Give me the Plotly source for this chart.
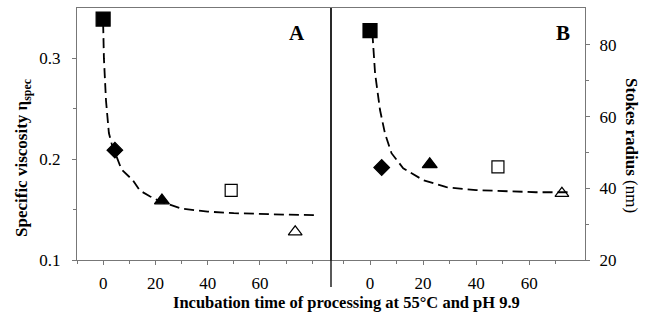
import plotly.graph_objects as go

# Panel A: specific viscosity
a_x = [0, 4.5, 22.5, 49, 73.5]
a_y = [0.339, 0.209, 0.159, 0.169, 0.128]
a_curve_x = [0, 0.3, 1.1, 2.2, 3.3, 4.5, 7, 11.4, 14, 18, 22, 30, 40, 50, 60, 70, 82]
a_curve_y = [0.335, 0.30, 0.258, 0.226, 0.215, 0.207, 0.19, 0.179, 0.169, 0.163, 0.158, 0.151, 0.148, 0.1465, 0.1455, 0.145, 0.1445]

# Panel B: Stokes radius
b_x = [0, 4.4, 22.5, 48.2, 72.3]
b_y = [84, 45.8, 46.7, 46, 38.6]
b_curve_x = [0.9, 1.9, 3.75, 5.6, 8.1, 12.5, 20, 28.8, 40, 50, 62.5, 75.6]
b_curve_y = [83.3, 72.1, 61.9, 55.4, 49.8, 45.6, 42.3, 40.3, 39.5, 39.3, 38.9, 38.9]

symbols = ["square", "diamond", "triangle-up", "square-open", "triangle-up-open"]
sizes = [14, 12, 13, 12, 12]

FONT = "Liberation Serif"

fig = go.Figure()
fig.add_trace(go.Scatter(x=a_curve_x, y=a_curve_y, mode="lines",
                         line=dict(color="black", width=1.8, dash="10px,5px"),
                         xaxis="x", yaxis="y", showlegend=False))
fig.add_trace(go.Scatter(x=a_x, y=a_y, mode="markers",
                         marker=dict(symbol=symbols, size=sizes, color="black", opacity=1,
                                     line=dict(color="black", width=1.2)),
                         xaxis="x", yaxis="y", showlegend=False))
fig.add_trace(go.Scatter(x=b_curve_x, y=b_curve_y, mode="lines",
                         line=dict(color="black", width=1.8, dash="10px,5px"),
                         xaxis="x2", yaxis="y2", showlegend=False))
fig.add_trace(go.Scatter(x=b_x, y=b_y, mode="markers",
                         marker=dict(symbol=symbols, size=sizes, color="black", opacity=1,
                                     line=dict(color="black", width=1.2)),
                         xaxis="x2", yaxis="y2", showlegend=False))

fig.update_layout(
    width=650, height=323,
    margin=dict(l=77, r=65, t=8, b=63),
    plot_bgcolor="white", paper_bgcolor="white",
    font=dict(family=FONT, size=17, color="black"),
    xaxis=dict(domain=[0, 0.5], range=[-10, 87.2], tickvals=[0, 20, 40, 60],
               ticktext=["0", "20", "40", "60"],
               minor=dict(tickvals=[-10, 10, 30, 50, 70, 80], ticks="outside", ticklen=3, tickcolor="#777"),
               anchor="y", ticklabelstandoff=4),
    yaxis=dict(domain=[0, 1], range=[0.1, 0.35], tickvals=[0.1, 0.2, 0.3],
               ticktext=["0.1", "0.2", "0.3"],
               minor=dict(tickvals=[0.15, 0.25], ticks="outside", ticklen=3, tickcolor="#777"),
               anchor="x", ticklabelstandoff=8),
    xaxis2=dict(domain=[0.5, 1], range=[-14.7, 81], tickvals=[0, 20, 40, 60],
                ticktext=["0", "20", "40", "60"],
                minor=dict(tickvals=[-10, 10, 30, 50, 70], ticks="outside", ticklen=3, tickcolor="#777"),
                anchor="y2", ticklabelstandoff=4),
    yaxis2=dict(domain=[0, 1], range=[20, 90.3], tickvals=[20, 40, 60, 80],
                ticktext=["20", "40", "60", "80"],
                minor=dict(tickvals=[30, 50, 70], ticks="outside", ticklen=3, tickcolor="#777"),
                anchor="x2", side="right", ticklabelstandoff=6),
    shapes=[dict(type="line", xref="paper", yref="paper", x0=0.5, x1=0.5,
                 y0=1, y1=-0.107, line=dict(color="black", width=1.3))],
    annotations=[
        dict(text="<b>A</b>", xref="paper", yref="paper", x=(297 - 77) / 508, y=1 - (33 - 8) / 252,
             showarrow=False, font=dict(family=FONT, size=21, color="black"),
             xanchor="center", yanchor="middle"),
        dict(text="<b>B</b>", xref="paper", yref="paper", x=(563 - 77) / 508, y=1 - (33 - 8) / 252,
             showarrow=False, font=dict(family=FONT, size=21, color="black"),
             xanchor="center", yanchor="middle"),
        dict(text="<b>Specific viscosity η<sub>spec</sub></b>", xref="paper", yref="paper",
             x=(23 - 77) / 508, y=1 - (158 - 8) / 252, textangle=-90, showarrow=False,
             font=dict(family=FONT, size=17, color="black"), xanchor="center", yanchor="middle"),
        dict(text="<b>Stokes radius</b> (nm)", xref="paper", yref="paper",
             x=(632 - 77) / 508, y=1 - (145 - 8) / 252, textangle=90, showarrow=False,
             font=dict(family=FONT, size=17, color="black"), xanchor="center", yanchor="middle"),
        dict(text="<b>Incubation time of processing at 55°C and pH 9.9</b>", xref="paper", yref="paper",
             x=(346 - 77) / 508, y=1 - (302 - 8) / 252, showarrow=False,
             font=dict(family=FONT, size=16.5, color="black"), xanchor="center", yanchor="middle"),
    ],
)

fig.update_xaxes(showline=True, linecolor="#777", linewidth=1, mirror=True,
                 ticks="outside", ticklen=4, tickcolor="#777", showgrid=False, zeroline=False,
                 tickfont=dict(family=FONT, size=17, color="black"))
fig.update_yaxes(showline=True, linecolor="#777", linewidth=1, mirror=True,
                 ticks="outside", ticklen=4, tickcolor="#777", showgrid=False, zeroline=False,
                 tickfont=dict(family=FONT, size=17, color="black"))

fig.write_html("out.html")
